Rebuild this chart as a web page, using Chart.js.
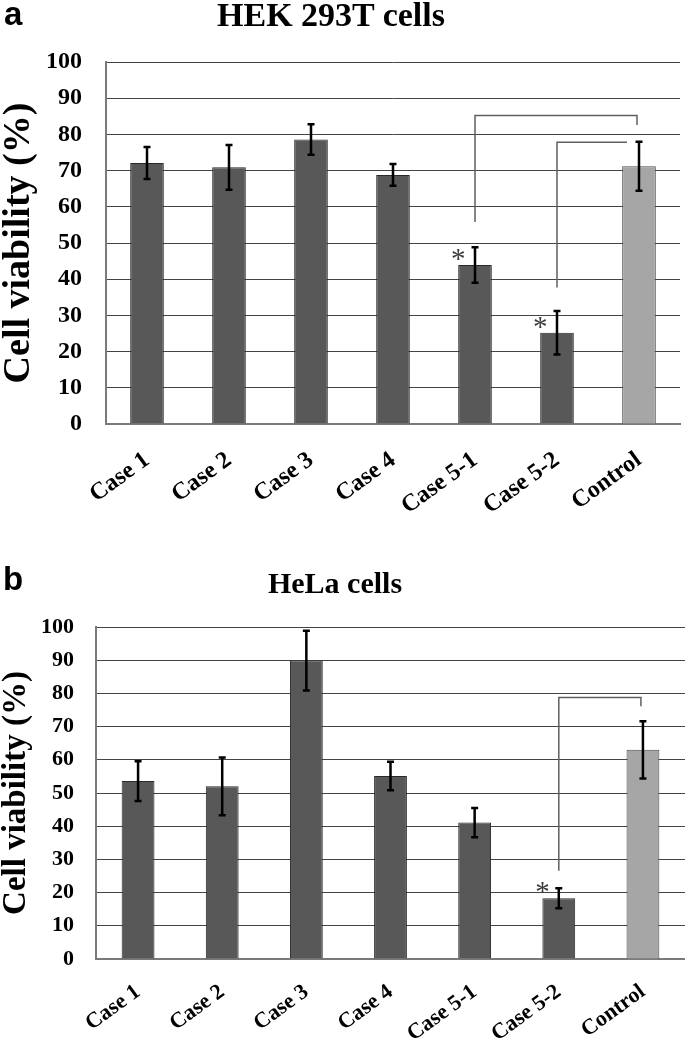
<!DOCTYPE html>
<html><head><meta charset="utf-8">
<script src="https://cdn.jsdelivr.net/npm/chart.js@4.4.0/dist/chart.umd.min.js"></script>
<style>
html,body{margin:0;padding:0;background:#fff;}
#page{position:relative;width:685px;height:1047px;overflow:hidden;background:#fff;}
.lbl{position:absolute;font-family:'Liberation Sans',Arial,sans-serif;font-weight:bold;font-size:33px;line-height:33px;color:#000;z-index:2;}
.ttl{position:absolute;font-family:'Liberation Serif','Times New Roman',serif;font-weight:bold;color:#000;white-space:nowrap;transform:translateX(-50%);z-index:2;}
.cw{position:absolute;left:0;width:685px;}
</style></head><body>
<div id="page">
<div class="cw" style="top:0;height:530px"><canvas id="c1"></canvas></div>
<div class="cw" style="top:540px;height:507px"><canvas id="c2"></canvas></div>
<div class="lbl" style="left:4px;top:-3px">a</div>
<div class="ttl" style="left:331px;top:-2px;font-size:34px;line-height:34px">HEK 293T cells</div>
<div class="lbl" style="left:3px;top:562px">b</div>
<div class="ttl" style="left:335px;top:568px;font-size:30px;line-height:30px">HeLa cells</div>
</div>
<script>
const categories = ['Case 1', 'Case 2', 'Case 3', 'Case 4', 'Case 5-1', 'Case 5-2', 'Control'];
const yMin = 0, yMax = 100, yStep = 10;
const yTitle = 'Cell viability (%)';

const hekValues = [72.1, 70.9, 78.6, 68.8, 43.9, 25.2, 71.2];
const hekErrors = [4.4, 6.2, 4.2, 3.0, 4.9, 6.0, 6.8];
const hekStars = ['Case 5-1', 'Case 5-2'];
const hekBrackets = [
  {from: 'Case 5-1', to: 'Control', top: 85.2, fromEnd: 55.8, toEnd: 82.6},
  {from: 'Case 5-2', to: 'Control', top: 77.8, fromEnd: 37.7, toEnd: null}
];

const helaValues = [53.6, 52.0, 89.9, 55.1, 41.1, 18.3, 63.0];
const helaErrors = [6.0, 8.7, 9.0, 4.3, 4.4, 3.0, 8.6];
const helaStars = ['Case 5-2'];
const helaBrackets = [
  {from: 'Case 5-2', to: 'Control', top: 78.8, fromEnd: 26.6, toEnd: 76.1}
];

const SERIF = "'Liberation Serif','Times New Roman',serif";

function makeAnnot(errors, stars, brackets) {
  return {
    id: 'annot',
    afterDatasetsDraw(chart) {
      const ctx = chart.ctx, ys = chart.scales.y;
      const meta = chart.getDatasetMeta(0);
      const vals = chart.data.datasets[0].data;
      ctx.save();
      // brackets
      ctx.strokeStyle = '#606060';
      ctx.lineWidth = 1.5;
      brackets.forEach(b => {
        const x1 = meta.data[categories.indexOf(b.from)].x;
        let x2 = meta.data[categories.indexOf(b.to)].x;
        const yTop = ys.getPixelForValue(b.top);
        ctx.beginPath();
        ctx.moveTo(x1, ys.getPixelForValue(b.fromEnd));
        ctx.lineTo(x1, yTop);
        if (b.toEnd === null) {
          ctx.lineTo(x2 - 12, yTop);
        } else {
          x2 -= 2;
          ctx.lineTo(x2, yTop);
          ctx.lineTo(x2, ys.getPixelForValue(b.toEnd));
        }
        ctx.stroke();
      });
      // error bars
      ctx.strokeStyle = '#000';
      ctx.lineWidth = 2.5;
      errors.forEach((e, i) => {
        const x = meta.data[i].x;
        const yt = ys.getPixelForValue(vals[i] + e);
        const yb = ys.getPixelForValue(vals[i] - e);
        ctx.beginPath();
        ctx.moveTo(x, yt); ctx.lineTo(x, yb);
        ctx.moveTo(x - 3.5, yt); ctx.lineTo(x + 3.5, yt);
        ctx.moveTo(x - 3.5, yb); ctx.lineTo(x + 3.5, yb);
        ctx.stroke();
      });
      // asterisks
      ctx.fillStyle = '#3c3c3c';
      ctx.font = '29px ' + SERIF;
      ctx.textAlign = 'center';
      ctx.textBaseline = 'alphabetic';
      stars.forEach(s => {
        const el = meta.data[categories.indexOf(s)];
        ctx.fillText('*', el.x - el.width / 2, el.y + 3);
      });
      ctx.restore();
    }
  };
}

function makeChart(id, values, errors, stars, brackets, g) {
  return new Chart(document.getElementById(id), {
    type: 'bar',
    data: {
      labels: categories,
      datasets: [{
        data: values,
        backgroundColor: categories.map(c => c === 'Control' ? '#a6a6a6' : '#585858'),
        borderColor: categories.map(c => c === 'Control' ? '#4a4a4a' : '#2a2a2a'),
        borderWidth: 1,
        barPercentage: g.barPct,
        categoryPercentage: 1
      }]
    },
    options: {
      responsive: true,
      maintainAspectRatio: false,
      animation: false,
      layout: {padding: {top: g.padTop, right: g.padRight, left: 0, bottom: 0}},
      plugins: {legend: {display: false}, tooltip: {enabled: false}, title: {display: false}},
      scales: {
        x: {
          grid: {display: false, drawTicks: false},
          border: {display: true, color: '#7a7a7a', width: 2},
          ticks: {
            autoSkip: false, maxRotation: g.rot, minRotation: g.rot, padding: g.xPad,
            color: '#000', font: {family: SERIF, weight: 'bold', size: g.xFont}
          },
          afterFit(s) { s.height = g.xH; }
        },
        y: {
          min: yMin, max: yMax,
          ticks: {stepSize: yStep, padding: g.yPad, color: '#000', font: {family: SERIF, weight: 'bold', size: g.yFont}},
          grid: {color: '#444', lineWidth: 1, drawTicks: false},
          border: {display: true, color: '#7a7a7a', width: 2},
          title: {
            display: true, text: yTitle, color: '#000',
            font: {family: SERIF, weight: 'bold', size: g.titleFont, lineHeight: 1},
            padding: {top: 0, bottom: 0}
          },
          afterFit(s) { s.width = g.yW; }
        }
      }
    },
    plugins: [makeAnnot(errors, stars, brackets)]
  });
}

makeChart('c1', hekValues, hekErrors, hekStars, hekBrackets,
  {barPct: 0.41, padTop: 62, padRight: 5, xH: 106, yW: 106, rot: 36, xPad: 22, xFont: 24, yFont: 24, yPad: 24, titleFont: 38});
makeChart('c2', helaValues, helaErrors, helaStars, helaBrackets,
  {barPct: 0.39, padTop: 87, padRight: 0, xH: 88, yW: 96, rot: 36, xPad: 20, xFont: 22, yFont: 22, yPad: 22, titleFont: 33});
</script>
</body></html>
